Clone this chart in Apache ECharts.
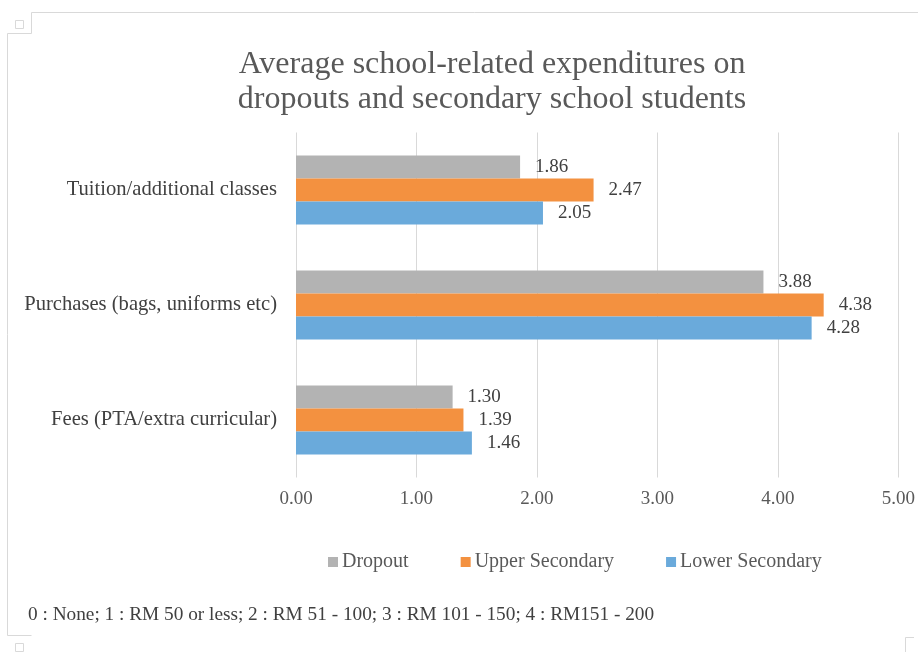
<!DOCTYPE html>
<html>
<head>
<meta charset="utf-8">
<script src="https://cdn.jsdelivr.net/npm/echarts@6/dist/echarts.min.js"></script>
<style>
html,body{margin:0;padding:0;background:#fff;}
#chart{width:918px;height:652px;}
</style>
</head>
<body>
<div id="chart"></div>
<script>
const categories = ["Fees (PTA/extra curricular)", "Purchases (bags, uniforms etc)", "Tuition/additional classes"];
const dropout = [1.30, 3.88, 1.86];
const upperSecondary = [1.39, 4.38, 2.47];
const lowerSecondary = [1.46, 4.28, 2.05];
const xTicks = [0, 1, 2, 3, 4, 5];
const titleText = "Average school-related expenditures on\ndropouts and secondary school students";
const footnote = "0 : None; 1 : RM 50 or less; 2 : RM 51 - 100; 3 : RM 101 - 150; 4 : RM151 - 200";

const FONT = "Liberation Serif";
const TXT = "#404040";
const chart = echarts.init(document.getElementById('chart'), null, {renderer: 'canvas'});

function labelCfg() {
  return {
    show: true, position: 'right', distance: 15,
    color: TXT, fontFamily: FONT, fontSize: 19,
    formatter: p => p.value.toFixed(2)
  };
}

const option = {
  backgroundColor: '#fff',
  animation: false,
  title: {
    text: titleText,
    left: 487, top: 42, textAlign: 'center',
    textStyle: {fontFamily: FONT, fontSize: 32, fontWeight: 'normal', color: '#595959', lineHeight: 35}
  },
  legend: {
    data: ['Dropout', 'Upper Secondary', 'Lower Secondary'],
    left: 323, top: 547,
    itemWidth: 10, itemHeight: 10, itemGap: 52,
    icon: 'rect',
    textStyle: {fontFamily: FONT, fontSize: 20, color: '#595959', padding: [0, 0, 0, -1]}
  },
  grid: {left: 296, right: 17, top: 132.5, bottom: 174.5, containLabel: false},
  xAxis: {
    type: 'value', min: xTicks[0], max: xTicks[xTicks.length - 1], interval: 1,
    axisLine: {show: false}, axisTick: {show: false},
    splitLine: {show: true, lineStyle: {color: '#d9d9d9', width: 1}},
    axisLabel: {
      margin: 12, color: '#595959', fontFamily: FONT, fontSize: 19,
      formatter: v => v.toFixed(2)
    }
  },
  yAxis: {
    type: 'category', data: categories,
    axisLine: {show: false}, axisTick: {show: false},
    axisLabel: {margin: 19, color: TXT, fontFamily: FONT, fontSize: 20.6}
  },
  series: [
    {name: 'Dropout', type: 'bar', data: dropout, barGap: '0%', barCategoryGap: '40%',
     itemStyle: {color: '#b3b3b3'}, label: labelCfg()},
    {name: 'Upper Secondary', type: 'bar', data: upperSecondary, barGap: '0%', barCategoryGap: '40%',
     itemStyle: {color: '#f39140'}, label: labelCfg()},
    {name: 'Lower Secondary', type: 'bar', data: lowerSecondary, barGap: '0%', barCategoryGap: '40%',
     itemStyle: {color: '#6aaadb'}, label: labelCfg()}
  ],
  graphic: [
    {type: 'text', left: 28, top: 605, style: {text: footnote, fill: TXT, font: '19.3px "Liberation Serif"'}},
    {type: 'polyline', shape: {points: [[918, 12.5], [31.5, 12.5], [31.5, 33.5], [7.5, 33.5], [7.5, 635.5], [31.5, 635.5]]},
     style: {stroke: '#d9d9d9', fill: null, lineWidth: 1}},
    {type: 'rect', shape: {x: 15.5, y: 20.5, width: 8, height: 8}, style: {stroke: '#d9d9d9', fill: null, lineWidth: 1}},
    {type: 'rect', shape: {x: 15.5, y: 643.5, width: 8, height: 8}, style: {stroke: '#d9d9d9', fill: null, lineWidth: 1}},
    {type: 'polyline', shape: {points: [[905.5, 652], [905.5, 637.5], [914, 637.5]]}, style: {stroke: '#d9d9d9', fill: null, lineWidth: 1}}
  ]
};
chart.setOption(option);
</script>
</body>
</html>
